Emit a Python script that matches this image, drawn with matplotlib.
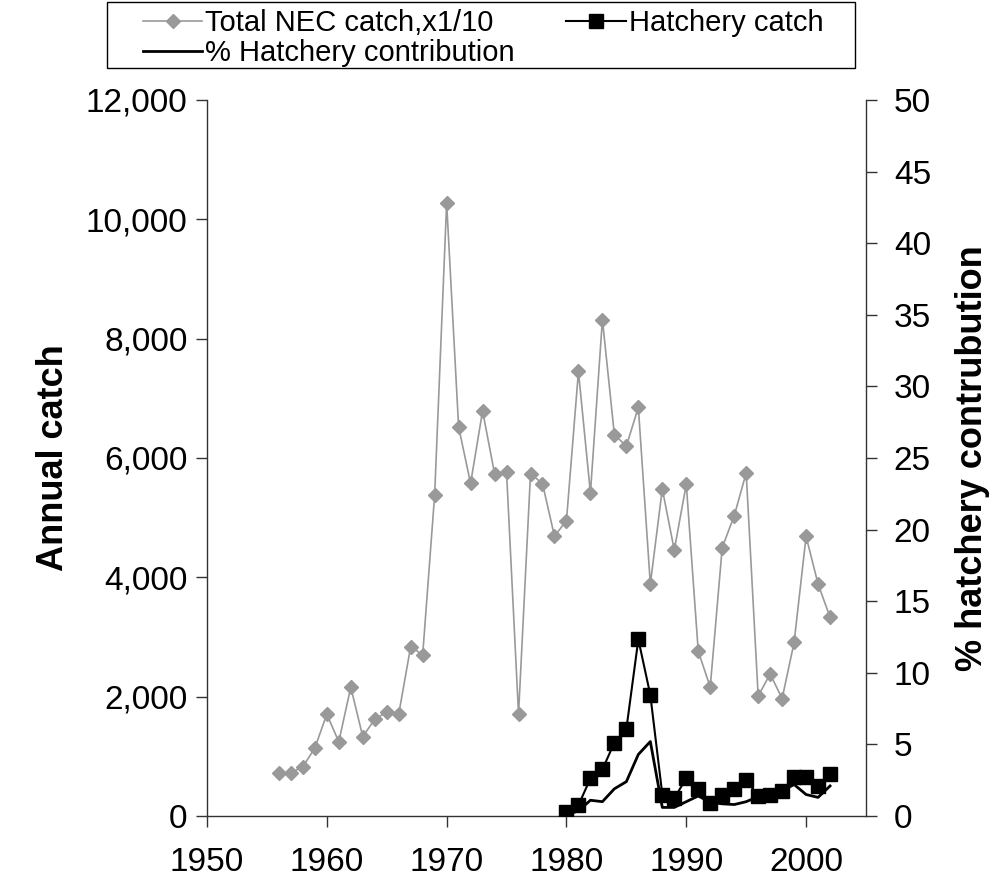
import matplotlib
matplotlib.use("Agg")
import matplotlib.pyplot as plt
from matplotlib.ticker import FuncFormatter, MultipleLocator
from matplotlib.patches import Rectangle

plt.rcParams['font.family'] = ['Liberation Sans', 'DejaVu Sans']

years_total = list(range(1956, 2003))
total_catch = [725, 725, 825, 1140, 1706, 1244, 2160, 1330, 1621, 1742,
               1706, 2840, 2700, 5382, 10274, 6520, 5574, 6790, 5738, 5759,
               1706, 5738, 5570, 4690, 4950, 7450, 5412, 8320, 6390, 6200,
               6850, 3888, 5480, 4458, 5560, 2760, 2160, 4500, 5030, 5750,
               2010, 2382, 1968, 2910, 4685, 3888, 3330]

years_hatch = list(range(1980, 2003))
hatchery_catch = [70, 180, 630, 780, 1230, 1458, 2960, 2028, 360, 300,
                  630, 450, 210, 360, 450, 600, 342, 360, 420, 660,
                  660, 510, 708]
pct_hatchery = [0.1, 0.35, 1.1, 1.0, 1.9, 2.4, 4.3, 5.2, 0.6, 0.6,
                1.0, 1.4, 0.95, 0.85, 0.8, 1.0, 1.35, 1.5, 1.75, 2.2,
                1.5, 1.3, 2.1]

W, H = 993, 883
fig = plt.figure(figsize=(W/100, H/100), dpi=100)
ax = fig.add_axes([207/W, 1-816/H, (866-207)/W, (816-100)/H])
ax2 = ax.twinx()

l1, = ax.plot(years_total, total_catch, color='#999999', lw=1.2, marker='D',
              markersize=6.8, markeredgecolor='#999999', markerfacecolor='#999999',
              label='Total NEC catch,x1/10', zorder=2)
l2, = ax.plot(years_hatch, hatchery_catch, color='black', lw=1.5, marker='s',
              markersize=9.5, label='Hatchery catch', zorder=3)
l3, = ax2.plot(years_hatch, pct_hatchery, color='black', lw=2.0,
               label='% Hatchery contribution')

ax.set_xlim(1950, 2005)
ax.set_ylim(0, 12000)
ax2.set_ylim(0, 50)
ax.xaxis.set_major_locator(MultipleLocator(10))
ax.yaxis.set_major_locator(MultipleLocator(2000))
ax2.yaxis.set_major_locator(MultipleLocator(5))
ax.yaxis.set_major_formatter(FuncFormatter(lambda v, p: f"{int(v):,}"))

for a in (ax, ax2):
    a.spines['top'].set_visible(False)
    for s in a.spines.values():
        s.set_linewidth(1.0)
        s.set_color('#333333')
    a.patch.set_visible(False)
ax.spines['right'].set_visible(False)
ax2.spines['left'].set_visible(False)
ax2.spines['bottom'].set_visible(False)

ax.tick_params(axis='y', direction='out', length=8, width=1.0,
               labelsize=24, pad=6, color='#333333')
ax.tick_params(axis='x', direction='out', length=8, width=1.0,
               labelsize=24, pad=14, color='#333333')
ax2.tick_params(axis='y', direction='out', length=8, width=1.0,
                labelsize=24, pad=12, color='#333333')

ax.set_ylabel('Annual catch', fontsize=26, fontweight='bold', labelpad=11)
ax2.set_ylabel('% hatchery contrubution', fontsize=26, fontweight='bold',
               rotation=90, labelpad=17)

# legend frame drawn separately (wider horizontal padding than vertical)
fig.patches.append(Rectangle((107/W, 1-68/H), (855-107)/W, (68-2)/H,
                             transform=fig.transFigure, fill=False,
                             edgecolor='black', linewidth=1.0))
leg = fig.legend(handles=[l1, l3, l2], loc='center',
                 bbox_to_anchor=(483/W, 1-38/H), ncol=2, fontsize=21,
                 frameon=False, handlelength=2.05,
                 handletextpad=0.1, columnspacing=1.75, labelspacing=0.05,
                 borderpad=0.0, borderaxespad=0.0)

fig.savefig('out.png', dpi=100)
